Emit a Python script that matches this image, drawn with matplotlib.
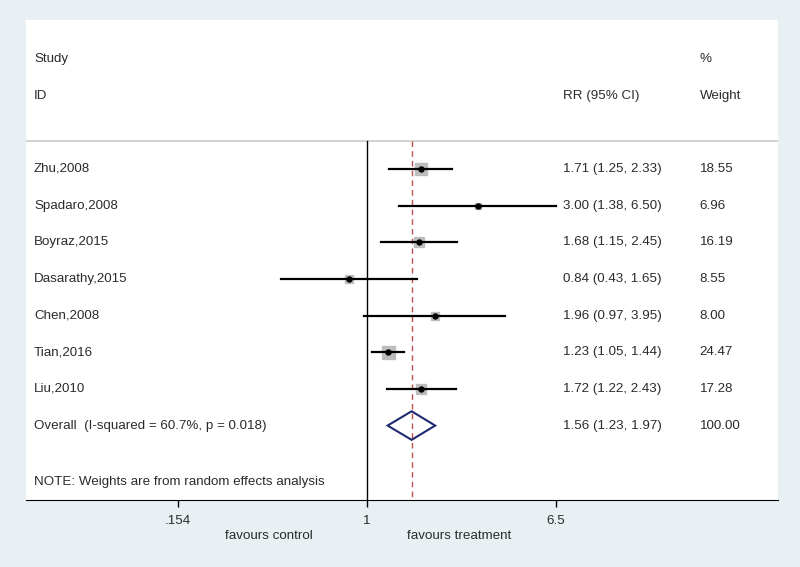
import numpy as np
import matplotlib.pyplot as plt
import matplotlib.transforms as mtransforms

# study data
studies = ['Zhu,2008', 'Spadaro,2008', 'Boyraz,2015', 'Dasarathy,2015',
           'Chen,2008', 'Tian,2016', 'Liu,2010']
rr = [1.71, 3.00, 1.68, 0.84, 1.96, 1.23, 1.72]
lo = [1.25, 1.38, 1.15, 0.43, 0.97, 1.05, 1.22]
hi = [2.33, 6.50, 2.45, 1.65, 3.95, 1.44, 2.43]
weights = [18.55, 6.96, 16.19, 8.55, 8.00, 24.47, 17.28]

overall_label = 'Overall  (I-squared = 60.7%, p = 0.018)'
overall = (1.56, 1.23, 1.97)
xticks = [0.154, 1, 6.5]
xtick_labels = ['.154', '1', '6.5']

plt.rcParams['font.family'] = ['Liberation Sans', 'DejaVu Sans']
txt_col = '#2b2b2b'

fig = plt.figure(figsize=(8, 5.67), dpi=100)
fig.patch.set_facecolor('#e8f0f4')
W, H = 800, 567
ax = fig.add_axes([26 / W, (H - 500) / H, (778 - 26) / W, (500 - 20) / H])
ax.set_facecolor('white')

ax.set_xscale('log')
ax.set_xlim(np.exp(-3.373), np.exp(4.072))
ax.set_ylim(9.03, -4.06)

tr = mtransforms.blended_transform_factory(ax.transAxes, ax.transData)
fs = 9.6

# header
ax.text(0.0106, -3.0, 'Study', transform=tr, fontsize=fs, color=txt_col, va='center')
ax.text(0.0106, -2.0, 'ID', transform=tr, fontsize=fs, color=txt_col, va='center')
ax.text(0.714, -2.0, 'RR (95% CI)', transform=tr, fontsize=fs, color=txt_col, va='center')
ax.text(0.896, -3.0, '%', transform=tr, fontsize=fs, color=txt_col, va='center')
ax.text(0.896, -2.0, 'Weight', transform=tr, fontsize=fs, color=txt_col, va='center')
ax.axhline(-0.76, color='#d4d4d4', lw=1.5)

# reference lines
ax.plot([1, 1], [-0.76, 9.03], color='black', lw=1.0)
ax.plot([overall[0], overall[0]], [-0.76, 9.03], color='#c0504d', lw=1.0, ls=(0, (4, 3)))

# studies
max_side = 13.0
for i, name in enumerate(studies):
    ax.plot([lo[i], hi[i]], [i, i], color='black', lw=1.6, zorder=3)
    side = max_side * np.sqrt(weights[i] / max(weights))
    ax.plot(rr[i], i, marker='s', ms=side * 0.72, color='#bdbdbd', mec='#bdbdbd', zorder=2)
    ax.plot(rr[i], i, marker='o', ms=3.6, color='black', zorder=4)
    ax.text(0.0106, i, name, transform=tr, fontsize=fs, color=txt_col, va='center')
    ax.text(0.714, i, f'{rr[i]:.2f} ({lo[i]:.2f}, {hi[i]:.2f})', transform=tr,
            fontsize=fs, color=txt_col, va='center')
    ax.text(0.896, i, f'{weights[i]:.2f}', transform=tr, fontsize=fs, color=txt_col, va='center')

# overall diamond
yo = len(studies)
dh = 0.39
ax.fill([overall[1], overall[0], overall[2], overall[0], overall[1]],
        [yo, yo - dh, yo, yo + dh, yo], facecolor='none', edgecolor='#1f2a72', lw=1.5, zorder=4)
ax.text(0.0106, yo, overall_label, transform=tr, fontsize=fs, color=txt_col, va='center')
ax.text(0.714, yo, f'{overall[0]:.2f} ({overall[1]:.2f}, {overall[2]:.2f})', transform=tr,
        fontsize=fs, color=txt_col, va='center')
ax.text(0.896, yo, '100.00', transform=tr, fontsize=fs, color=txt_col, va='center')

ax.text(0.0106, 8.55, 'NOTE: Weights are from random effects analysis', transform=tr,
        fontsize=fs, color=txt_col, va='center')

# axes
for s in ['left', 'right', 'top']:
    ax.spines[s].set_visible(False)
ax.spines['bottom'].set_color('black')
ax.set_yticks([])
ax.set_xticks(xticks)
ax.set_xticklabels(xtick_labels, fontsize=fs, color=txt_col)
ax.xaxis.set_minor_locator(plt.NullLocator())
ax.tick_params(axis='x', length=5, width=1, pad=6)

fig.text(269 / W, 1 - 536 / H, 'favours control', ha='center', va='center', fontsize=fs, color=txt_col)
fig.text(459 / W, 1 - 536 / H, 'favours treatment', ha='center', va='center', fontsize=fs, color=txt_col)

fig.savefig('out.png', dpi=100, facecolor=fig.get_facecolor())
